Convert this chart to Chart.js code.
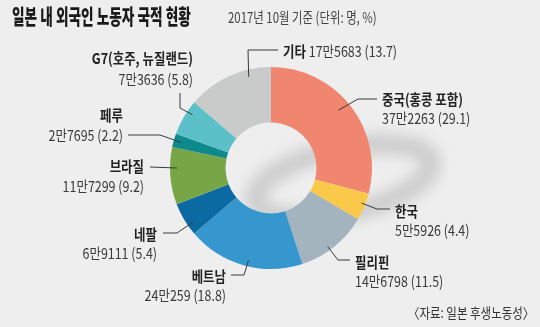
<!DOCTYPE html>
<html><head><meta charset="utf-8">
<script src="https://cdn.jsdelivr.net/npm/chart.js@4/dist/chart.umd.min.js"></script>
<style>
html,body{margin:0;padding:0;background:#EEEEEE;width:540px;height:327px;overflow:hidden;font-family:"Noto Sans CJK KR","Noto Sans",sans-serif}
#wrap{position:relative;width:540px;height:327px}
canvas{position:absolute;left:0;top:0}
.t{position:absolute;white-space:nowrap;transform-origin:0 50%;line-height:1}
#title{left:12px;top:5px;font-size:21px;font-weight:900;color:#1a1a1a;transform:scaleX(0.65)}
#sub{left:228px;top:9px;font-size:15px;color:#444;transform:scaleX(0.76)}
#src{left:408px;top:305px;font-size:14px;color:#333;transform:scaleX(0.82)}
</style></head><body>
<div id="wrap">
<canvas id="c" width="540" height="327"></canvas>
<div class="t" id="title">일본 내 외국인 노동자 국적 현황</div>
<div class="t" id="sub">2017년 10월 기준 (단위: 명, %)</div>
<div class="t" id="src">〈자료: 일본 후생노동성〉</div>
</div>
<script>
// ---- data ----
const categories = ['중국(홍콩 포함)','한국','필리핀','베트남','네팔','브라질','페루','G7(호주, 뉴질랜드)','기타'];
const workers    = [372263, 55926, 146798, 240259, 69111, 117299, 27695, 73636, 175683];
const shares     = ['29.1','4.4','11.5','18.8','5.4','9.2','2.2','5.8','13.7'];
const colors     = ['#F0866F','#FBC94A','#A3B4BE','#3597CE','#0B6AA2','#78A647','#0E8A8C','#5BC0C7','#C9CBCB'];

// ---- label layout (annotation placement) ----
const labelLayout = [
  {r:0.88, da:-3,  path:[[358,99],[377,99]],   align:'left',  x:382, y1:99,  y2:118},
  {r:0.96, da:-1.5,path:[[377,209],[390,209]], align:'left',  x:395, y1:211, y2:230},
  {r:0.96, da:3,   path:[[338,260],[350,260]], align:'left',  x:355, y1:262, y2:281},
  {r:0.94, da:-2,  path:[[244,275],[231,275]], align:'right', x:226, y1:276, y2:295},
  {r:0.94, da:-4,  path:[[177,233],[163,233]], align:'right', x:157, y1:234, y2:253},
  {r:0.93, da:4.5, path:[[150,167]],           align:'right', x:144, y1:166, y2:186},
  {r:0.93, da:0,   path:[[160,135],[128,135]], align:'right', x:123, y1:115, y2:135},
  {r:0.94, da:4,   path:[[180,108],[180,93]],  align:'right', x:193, y1:58,  y2:79},
  {r:0.93, da:11,  path:[[248,50],[278,50]],   align:'left',  x:283, y1:51,  inline:true}
];
const labelNames = ['중국(홍콩 포함)','한국','필리핀','베트남','네팔','브라질','페루','G7(호주, 뉴질랜드)','기타'];

function fmt(n){ const m=Math.floor(n/10000), r=n%10000; return (m>0? m+'만':'')+r; }

const FONT = '"Noto Sans CJK KR","Noto Sans",sans-serif';
const SC = 0.83;
function txt(ctx,s,x,y,align,bold,color){
  ctx.save();
  ctx.translate(x,y); ctx.scale(SC,1);
  ctx.font=(bold?'700 ':'400 ')+'15px '+FONT;
  ctx.fillStyle=color; ctx.textAlign=align; ctx.textBaseline='middle';
  ctx.fillText(s,0,0);
  const w=ctx.measureText(s).width*SC;
  ctx.restore();
  return w;
}

const shadowPlugin = {
  id:'ringShadow',
  beforeDatasetsDraw(chart){
    const meta=chart.getDatasetMeta(0); const a=meta.data[0]; if(!a) return;
    const ctx=chart.ctx;
    ctx.save();
    ctx.filter='blur(7px)';
    ctx.strokeStyle='rgba(0,0,0,0.14)';
    ctx.lineWidth=19;
    ctx.beginPath();
    ctx.ellipse(a.x+72, a.y+13, 90, 32, -0.22, 0, Math.PI*2);
    ctx.stroke();
    ctx.restore();
  }
};

const labelPlugin = {
  id:'leaderLabels',
  afterDatasetsDraw(chart){
    const ctx=chart.ctx; const meta=chart.getDatasetMeta(0);
    meta.data.forEach((arc,i)=>{
      const L=labelLayout[i];
      const mid=(arc.startAngle+arc.endAngle)/2 + L.da*Math.PI/180;
      const rr=arc.outerRadius*L.r;
      const sx=arc.x+Math.cos(mid)*rr, sy=arc.y+Math.sin(mid)*rr;
      ctx.save();
      ctx.strokeStyle='#3a3a3a'; ctx.lineWidth=1;
      ctx.beginPath(); ctx.moveTo(sx,sy);
      L.path.forEach(p=>ctx.lineTo(p[0],p[1]));
      ctx.stroke(); ctx.restore();
      const val=fmt(workers[i])+' ('+shares[i]+')';
      if(L.inline){
        const w=txt(ctx,labelNames[i]+' ',L.x,L.y1,'left',true,'#222');
        txt(ctx,val,L.x+w,L.y1,'left',false,'#3a3a3a');
      } else {
        txt(ctx,labelNames[i],L.x,L.y1,L.align,true,'#222');
        txt(ctx,val,L.x,L.y2,L.align,false,'#3a3a3a');
      }
    });
  }
};

new Chart(document.getElementById('c'),{
  type:'doughnut',
  data:{labels:categories,datasets:[{data:workers,backgroundColor:colors,borderWidth:0,hoverOffset:0}]},
  options:{
    responsive:false, animation:false, cutout:'45%',
    layout:{padding:{left:170,right:168,top:67,bottom:58}},
    plugins:{legend:{display:false},tooltip:{enabled:false},title:{display:false}},
    events:[]
  },
  plugins:[shadowPlugin,labelPlugin]
});
</script>
</body></html>
